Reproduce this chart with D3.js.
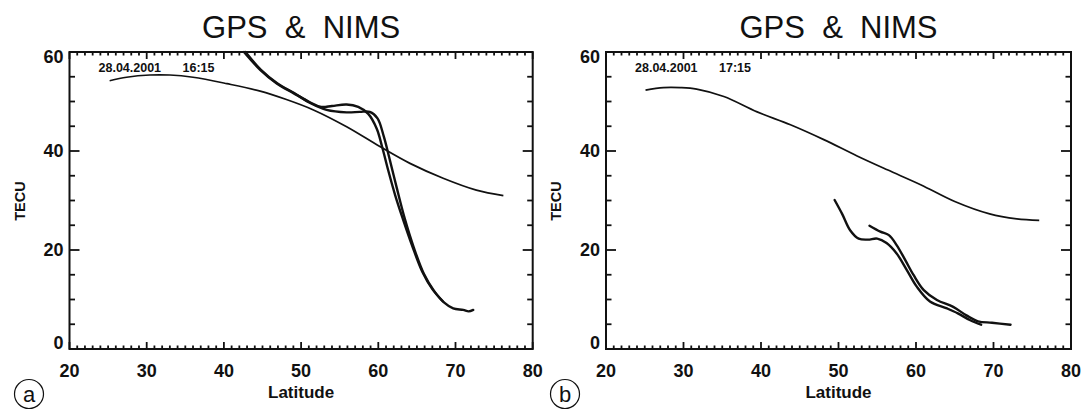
<!DOCTYPE html>
<html>
<head>
<meta charset="utf-8">
<script src="https://cdn.jsdelivr.net/npm/d3@7"></script>
<style>
  body { margin: 0; background: #fff; }
  svg { display: block; }
  text { fill: #111; }
</style>
</head>
<body>
<svg id="chart" width="1082" height="410"></svg>
<script>
// panel a, 28.04.2001 16:15
const latA_gps = [25.2, 27.4, 30.4, 33.0, 36.0, 40.4, 44.7, 48.1, 51.6, 55.9, 60.2, 64.1, 68.4, 72.7, 76.2];
const tecA_gps = [54.2, 54.9, 55.35, 55.35, 54.9, 53.6, 52.1, 50.4, 48.3, 44.9, 40.9, 37.5, 34.5, 32.1, 31.0];

const latA_nims1 = [42.6, 44.7, 46.8, 49.0, 51.2, 52.6, 54.0, 55.9, 57.4, 58.7, 59.8, 60.5, 61.3, 62.2, 63.2, 64.4, 65.7, 67.0, 68.4];
const tecA_nims1 = [60.0, 56.4, 53.7, 51.7, 49.8, 48.9, 49.1, 49.4, 48.9, 47.5, 44.5, 40.8, 36.0, 31.0, 26.2, 20.8, 15.6, 12.1, 9.6];

const latA_nims2 = [42.8, 44.8, 46.9, 49.1, 51.3, 53.3, 55.9, 57.6, 58.9, 59.9, 60.7, 61.4, 62.4, 63.4, 64.6, 65.9, 67.2, 68.5, 69.7, 71.0, 71.7, 72.3];
const tecA_nims2 = [60.0, 56.4, 53.7, 51.7, 49.6, 48.3, 47.8, 47.9, 47.9, 46.6, 43.0, 38.8, 32.5, 26.5, 20.5, 15.2, 11.8, 9.4, 8.2, 7.9, 7.6, 7.9];

// panel b, 28.04.2001 17:15
const latB_gps = [25.1, 27.4, 29.6, 31.7, 35.2, 39.5, 43.8, 48.1, 52.4, 56.3, 60.6, 65.0, 69.5, 73.0, 75.9];
const tecB_gps = [52.3, 52.8, 52.8, 52.5, 51.0, 47.9, 45.3, 42.3, 39.0, 36.2, 33.2, 29.8, 27.3, 26.3, 26.0];

const latB_nims1 = [49.5, 50.5, 51.5, 52.6, 53.8, 55.0, 56.2, 57.5, 58.8, 60.1, 61.8, 64.0, 65.4, 67.0, 68.4];
const tecB_nims1 = [30.1, 27.2, 24.0, 22.3, 22.1, 22.3, 21.4, 19.3, 16.0, 12.6, 9.6, 8.2, 7.2, 5.8, 4.9];

const latB_nims2 = [54.0, 55.4, 56.5, 57.5, 58.6, 59.7, 61.0, 62.7, 64.8, 66.5, 68.0, 69.8, 72.2];
const tecB_nims2 = [24.9, 23.7, 23.0, 21.0, 18.0, 14.9, 11.9, 9.9, 8.5, 6.8, 5.6, 5.3, 4.9];

const xMajor = [20, 30, 40, 50, 60, 70, 80];
const yMajor = [0, 20, 40, 60];
const titleText = "GPS  &  NIMS";
const dateText = "28.04.2001";

const svg = d3.select("#chart");
svg.append("rect").attr("width", 1082).attr("height", 410).attr("fill", "#fff");

const plotTop = 52, plotBottom = 349;
const font = "Liberation Sans, Arial, sans-serif";

function zip(xs, ys) { return xs.map((d, i) => [d, ys[i]]); }

function panel(left, right, letterX, letter, timeText, gps, nims) {
  const x = d3.scaleLinear().domain([20, 80]).range([left, right]);
  const y = d3.scaleLinear().domain([0, 60]).range([plotBottom, plotTop]);
  const g = svg.append("g");

  // title
  g.append("text")
    .attr("x", (left + right) / 2).attr("y", 38)
    .attr("text-anchor", "middle")
    .style("white-space", "pre")
    .attr("font-family", font)
    .attr("font-size", 31)
    .text(titleText);

  // ticks, all pointing inward
  const xTicks = d3.range(20, 81, 1);
  const yTicks = d3.range(0, 61, 5);
  const tk = g.append("g").attr("stroke", "#111").attr("stroke-width", 1.8);
  [plotBottom, plotTop].forEach((y0, side) => {
    tk.selectAll(null).data(xTicks).enter().append("line")
      .attr("x1", d => x(d)).attr("x2", d => x(d))
      .attr("y1", y0)
      .attr("y2", d => y0 + (side ? 1 : -1) * (d % 10 === 0 ? 7 : 3.5));
  });
  [left, right].forEach((x0, side) => {
    tk.selectAll(null).data(yTicks).enter().append("line")
      .attr("y1", d => y(d)).attr("y2", d => y(d))
      .attr("x1", x0)
      .attr("x2", d => x0 + (side ? -1 : 1) * (d % 20 === 0 ? 10 : 5.5));
  });

  // tick labels
  g.selectAll(null).data(xMajor).enter().append("text")
    .attr("x", d => x(d)).attr("y", 377)
    .attr("text-anchor", "middle")
    .attr("font-family", font).attr("font-weight", "bold").attr("font-size", 18)
    .text(d => d);
  g.selectAll(null).data(yMajor).enter().append("text")
    .attr("x", left - 6)
    .attr("y", d => y(d) + 6 + (d === 60 ? 5 : d === 0 ? -6 : 0))
    .attr("text-anchor", "end")
    .attr("font-family", font).attr("font-weight", "bold").attr("font-size", 18)
    .text(d => d);

  // frame
  g.append("rect")
    .attr("x", left).attr("y", plotTop)
    .attr("width", right - left).attr("height", plotBottom - plotTop)
    .attr("fill", "none").attr("stroke", "#111").attr("stroke-width", 2);

  // axis titles
  g.append("text")
    .attr("x", (left + right) / 2).attr("y", 398)
    .attr("text-anchor", "middle")
    .attr("font-family", font)
    .attr("font-weight", "bold").attr("font-size", 17)
    .text("Latitude");
  g.append("text")
    .attr("transform", `translate(${left - 45},201) rotate(-90)`)
    .attr("text-anchor", "middle")
    .attr("font-family", font)
    .attr("font-weight", "bold").attr("font-size", 14.5)
    .text("TECU");

  // date / time
  g.append("text")
    .attr("x", left + 29).attr("y", 72)
    .attr("font-family", font)
    .attr("font-weight", "bold").attr("font-size", 12.5)
    .text(dateText);
  g.append("text")
    .attr("x", left + 113).attr("y", 72)
    .attr("font-family", font)
    .attr("font-weight", "bold").attr("font-size", 12.5)
    .text(timeText);

  // curves
  const line = d3.line().x(d => x(d[0])).y(d => y(d[1])).curve(d3.curveCatmullRom.alpha(0.5));
  g.append("path").datum(gps)
    .attr("d", line).attr("fill", "none").attr("stroke", "#111").attr("stroke-width", 1.7);
  nims.forEach(s => {
    g.append("path").datum(s)
      .attr("d", line).attr("fill", "none").attr("stroke", "#111").attr("stroke-width", 2.4)
      .attr("stroke-linejoin", "round").attr("stroke-linecap", "round");
  });

  // circled panel letter
  g.append("circle").attr("cx", letterX).attr("cy", 394).attr("r", 14.5)
    .attr("fill", "none").attr("stroke", "#111").attr("stroke-width", 1.2);
  g.append("text")
    .attr("x", letterX).attr("y", 401.5)
    .attr("text-anchor", "middle")
    .attr("font-family", font)
    .attr("font-size", 22)
    .text(letter);
}

panel(69.5, 532.7, 29, "a", "16:15",
  zip(latA_gps, tecA_gps),
  [zip(latA_nims1, tecA_nims1), zip(latA_nims2, tecA_nims2)]);

panel(606, 1071, 565, "b", "17:15",
  zip(latB_gps, tecB_gps),
  [zip(latB_nims1, tecB_nims1), zip(latB_nims2, tecB_nims2)]);
</script>
</body>
</html>
